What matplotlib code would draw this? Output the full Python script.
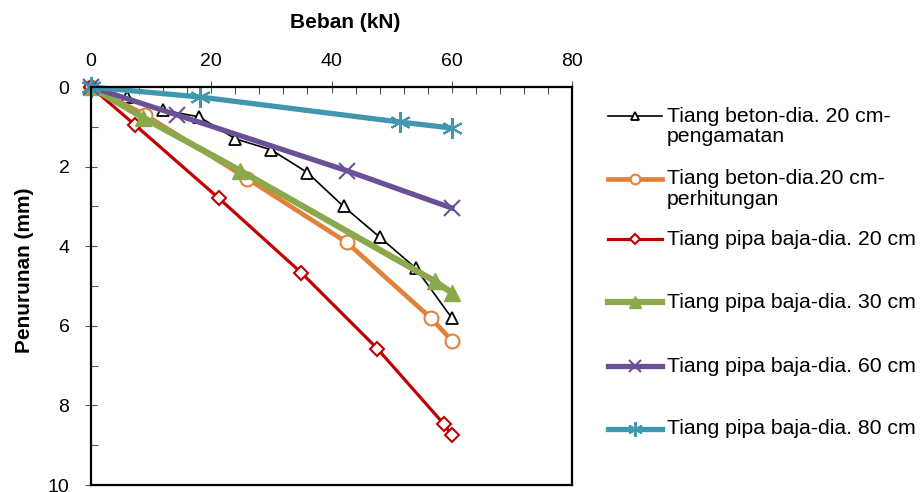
import matplotlib
matplotlib.use('Agg')
import matplotlib.pyplot as plt
from matplotlib.lines import Line2D
from matplotlib.ticker import MultipleLocator

plt.rcParams['font.family'] = ['Liberation Sans', 'DejaVu Sans']

# beban (kN) dan penurunan (mm) tiap tiang
beton_obs_x = [0, 6, 12, 18, 24, 30, 36, 42, 48, 54, 60]
beton_obs_y = [0, 0.25, 0.58, 0.75, 1.3, 1.58, 2.15, 3.0, 3.77, 4.55, 5.8]

beton_hit_x = [0, 9, 26, 42.5, 56.5, 60]
beton_hit_y = [0, 0.7, 2.3, 3.9, 5.8, 6.37]

pipa20_x = [0, 7.3, 21.3, 35, 47.6, 58.7, 60]
pipa20_y = [0, 0.95, 2.8, 4.67, 6.57, 8.47, 8.75]

pipa30_x = [0, 8.7, 24.8, 57.2, 60]
pipa30_y = [0, 0.77, 2.1, 4.88, 5.17]

pipa60_x = [0, 14.3, 42.5, 60]
pipa60_y = [0, 0.7, 2.1, 3.04]

pipa80_x = [0, 18.1, 51.4, 60]
pipa80_y = [0, 0.25, 0.88, 1.03]

labels = ['Tiang beton-dia. 20 cm-\npengamatan',
          'Tiang beton-dia.20 cm-\nperhitungan',
          'Tiang pipa baja-dia. 20 cm',
          'Tiang pipa baja-dia. 30 cm',
          'Tiang pipa baja-dia. 60 cm',
          'Tiang pipa baja-dia. 80 cm']

series = [
    (beton_obs_x, beton_obs_y, dict(color='black', lw=1.2, marker='^', ms=9, mfc='white', mec='black', mew=1.3)),
    (beton_hit_x, beton_hit_y, dict(color='#E2823A', lw=3.4, marker='o', ms=10, mfc='white', mec='#E2823A', mew=1.5)),
    (pipa20_x, pipa20_y, dict(color='#C00000', lw=2.3, marker='D', ms=7, mfc='white', mec='#C00000', mew=1.5)),
    (pipa30_x, pipa30_y, dict(color='#8BA94C', lw=4.5, marker='^', ms=12, mfc='#8BA94C', mec='#8BA94C', mew=1)),
    (pipa60_x, pipa60_y, dict(color='#6A5196', lw=3.8, marker='x', ms=12, mec='#6A5196', mew=1.5)),
    (pipa80_x, pipa80_y, dict(color='#3F98B0', lw=3.8, marker=(6, 2, 0), ms=15, mec='#3F98B0', mew=1.5)),
]

fig = plt.figure(figsize=(9.22, 4.92), dpi=100)
ax = fig.add_axes([0.0987, 0.0142, 0.5217, 0.8089])

for (x, y, st), lab in zip(series, labels):
    ax.plot(x, y, label=lab, clip_on=False, **st)

ax.set_xlim(0, 80)
ax.set_ylim(10, 0)
ax.xaxis.set_major_locator(MultipleLocator(20))
ax.xaxis.set_minor_locator(MultipleLocator(4))
ax.yaxis.set_major_locator(MultipleLocator(2))
ax.yaxis.set_minor_locator(MultipleLocator(1))
ax.xaxis.tick_top()
ax.tick_params(which='major', direction='inout', length=9, width=0.8, color='#555555', labelsize=14)
ax.tick_params(which='minor', direction='in', length=5, width=0.8, color='#555555')
ax.tick_params(axis='x', which='major', pad=8)
ax.tick_params(axis='y', which='major', pad=11)
for s in ax.spines.values():
    s.set_linewidth(1.6)

ax.set_xlabel('Beban (kN)', fontsize=15, fontweight='bold')
ax.xaxis.set_label_position('top')
ax.xaxis.set_label_coords(0.529, 1.148)
ax.set_ylabel('Penurunan (mm)', fontsize=15, fontweight='bold')
ax.yaxis.set_label_coords(-0.118, 0.54)

# legenda di sebelah kanan, garis sejajar baris pertama teks
leg_y = [116, 179, 239, 302, 366, 429]
H = 492.0
W = 922.0
for (x, y, st), lab, py in zip(series, labels, leg_y):
    yy = 1 - py / H
    kw = dict(st)
    kw['ms'] = kw['ms'] * 0.7
    fig.add_artist(Line2D([608 / W, 635 / W, 662 / W], [yy, yy, yy], transform=fig.transFigure,
                          markevery=[1], **kw))
    fig.text(667 / W, yy + 9.5 / H, lab, fontsize=15.3, va='top', ha='left',
             linespacing=1.1, transform=fig.transFigure)

fig.savefig('out.png', dpi=100)
